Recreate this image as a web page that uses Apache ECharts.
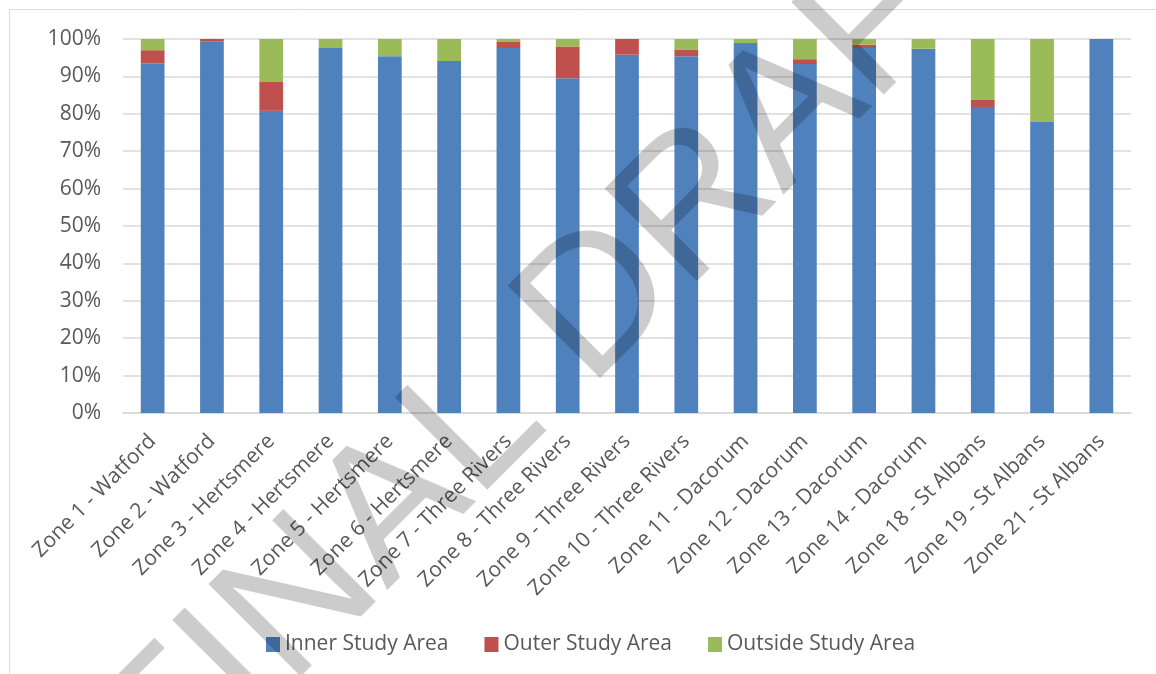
<!DOCTYPE html>
<html>
<head>
<meta charset="utf-8">
<script src="https://cdn.jsdelivr.net/npm/echarts@6/dist/echarts.min.js"></script>
<style>
html,body{margin:0;padding:0;background:#fff;}
#chart{width:1156px;height:674px;}
</style>
</head>
<body>
<div id="chart"></div>
<script>
const categories = [
  'Zone 1 - Watford', 'Zone 2 - Watford', 'Zone 3 - Hertsmere', 'Zone 4 - Hertsmere',
  'Zone 5 - Hertsmere', 'Zone 6 - Hertsmere', 'Zone 7 - Three Rivers', 'Zone 8 - Three Rivers',
  'Zone 9 - Three Rivers', 'Zone 10 - Three Rivers', 'Zone 11 - Dacorum', 'Zone 12 - Dacorum',
  'Zone 13 - Dacorum', 'Zone 14 - Dacorum', 'Zone 18 - St Albans', 'Zone 19 - St Albans',
  'Zone 21 - St Albans'
];
const seriesNames = ['Inner Study Area', 'Outer Study Area', 'Outside Study Area'];
const innerStudyArea   = [93.4, 99.3, 80.8, 97.6, 95.4, 94.1, 97.6, 89.5, 95.8, 95.4, 98.9, 93.3, 97.6, 97.4, 81.8, 77.8, 100];
const outerStudyArea   = [3.6, 0.7, 7.7, 0, 0, 0, 1.6, 8.5, 4.2, 1.8, 0, 1.3, 0.9, 0, 1.9, 0, 0];
const outsideStudyArea = [3.0, 0, 11.5, 2.4, 4.6, 5.9, 0.8, 2.0, 0, 2.8, 1.1, 5.4, 1.5, 2.6, 16.3, 22.2, 0];
const watermarkWords = ['FINAL', 'DRAFT'];

const colors = ['#4f81bd', '#c0504d', '#9bbb59'];
const font = '"Open Sans", "Liberation Sans", sans-serif';
const textColor = '#595959';

const chart = echarts.init(document.getElementById('chart'), null, {renderer: 'canvas'});
const values = [innerStudyArea, outerStudyArea, outsideStudyArea];

const option = {
  animation: false,
  backgroundColor: '#ffffff',
  color: colors,
  grid: {left: 123, right: 25, top: 39, bottom: 261, containLabel: false},
  legend: {
    data: seriesNames,
    left: 266,
    top: 634,
    padding: 0,
    icon: 'rect',
    itemWidth: 14,
    itemHeight: 15,
    itemGap: 36,
    textStyle: {color: textColor, fontSize: 21, fontFamily: font}
  },
  xAxis: {
    type: 'category',
    data: categories,
    axisLine: {show: true, lineStyle: {color: '#d9d9d9', width: 1.5}},
    axisTick: {show: false},
    axisLabel: {
      interval: 0, rotate: 45, margin: 25,
      color: textColor, fontSize: 21, fontFamily: font
    }
  },
  yAxis: {
    type: 'value',
    min: 0, max: 100, interval: 10,
    axisLine: {show: false},
    axisTick: {show: false},
    splitLine: {lineStyle: {color: '#d9d9d9', width: 1.5}},
    axisLabel: {
      formatter: '{value}%', margin: 22,
      color: textColor, fontSize: 21, fontFamily: font
    }
  },
  series: seriesNames.map((name, i) => ({
    name: name,
    type: 'bar',
    stack: 'total',
    barCategoryGap: '60%',
    data: values[i],
    itemStyle: {color: colors[i]}
  })),
  graphic: [
    {
      type: 'rect', z: -1, silent: true,
      shape: {x: 9.5, y: 9.5, width: 1170, height: 700},
      style: {fill: 'none', stroke: '#d9d9d9', lineWidth: 1}
    },
    {
      type: 'text', z: 100, silent: true,
      x: 514, y: 389, rotation: Math.PI / 4,
      style: {
        text: watermarkWords[0],
        fontSize: 190, fontFamily: '"Liberation Sans", Arial, sans-serif',
        fill: 'rgba(0,0,0,0.2)', align: 'right', verticalAlign: 'middle'
      }
    },
    {
      type: 'text', z: 100, silent: true,
      x: 552, y: 352, rotation: Math.PI / 4,
      style: {
        text: watermarkWords[1],
        fontSize: 190, fontFamily: '"Liberation Sans", Arial, sans-serif',
        fill: 'rgba(0,0,0,0.2)', align: 'left', verticalAlign: 'middle'
      }
    }
  ]
};
chart.setOption(option);
</script>
</body>
</html>
